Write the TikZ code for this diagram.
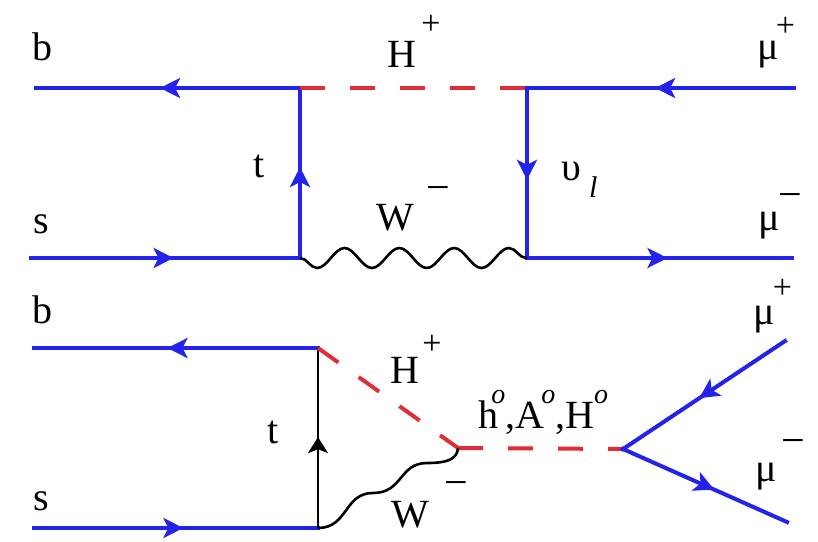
\documentclass[tikz,border=0pt]{standalone}
\usepackage{fontspec}
\setmainfont{Liberation Serif}
\usetikzlibrary{arrows.meta,decorations.markings,decorations.pathmorphing}
\definecolor{fblue}{RGB}{35,35,235}
\definecolor{sred}{RGB}{225,45,55}
\newcommand\upplus[1]{\raisebox{#1}{\fontsize{17}{17}\selectfont +}}
\newcommand\upminus[1]{\raisebox{#1}{\fontsize{21}{21}\selectfont −}}
\newcommand\upo{\raisebox{12.5pt}{\fontsize{14}{14}\selectfont\itshape o}}
\begin{document}
\begin{tikzpicture}[x=0.5pt,y=-0.5pt,
  fermion/.style={draw=fblue, line width=2pt, line cap=rect, postaction={decorate},
    decoration={markings, mark=at position #1 with {\arrow{Stealth[length=10pt,width=10pt,inset=2.5pt]}}}},
  tline/.style={draw=black, line width=1.3pt, postaction={decorate},
    decoration={markings, mark=at position #1 with {\arrow{Stealth[length=8pt,width=10pt,inset=2pt]}}}},
  scalar/.style={draw=sred, line width=2pt, dash pattern=on 12.5pt off 12.5pt},
  boson/.style={draw=black, line width=1.3pt, decorate,
    decoration={snake, amplitude=5pt, segment length=27.4pt, mirror}},
  wiggle/.style={draw=black, line width=1.3pt},
  lab/.style={anchor=base west, inner sep=0pt, font=\fontsize{20}{24}\selectfont}
]
\useasboundingbox (0,0) rectangle (818,541);
% ---------- top diagram ----------
\coordinate (bL) at (36,88);
\coordinate (vA) at (300,88);
\coordinate (vB) at (527,88);
\coordinate (muPR) at (794,88);
\coordinate (sL) at (31,258);
\coordinate (vC) at (300,258);
\coordinate (vD) at (527,258);
\coordinate (muMR) at (792,258);

\draw[fermion=0.53] (vA) -- (bL);
\draw[fermion=0.53] (sL) -- (vC);
\draw[fermion=0.535] (vC) -- (vA);
\draw[fermion=0.54] (vB) -- (vD);
\draw[fermion=0.52] (muPR) -- (vB);
\draw[fermion=0.53] (vD) -- (muMR);
\draw[scalar] (vA) -- (vB);
\draw[boson] (vC) -- (vD);

\node[lab] (tb) at (32,60) {b};
\node[lab] (ts) at (33,233) {s};
\node[lab] (tt) at (253,177) {t};
\node[lab] (tH) at (387,67) {H\kern2.5pt\upplus{16.5pt}};
\node[lab] (tW) at (376,230) {W\kern6pt\upminus{14.5pt}};
\node[lab] (tnu) at (561,180) {υ\kern4pt\raisebox{-8.5pt}{\fontsize{15}{15}\selectfont\itshape l}};
\node[lab] (tmup) at (757,59) {μ\kern-1.5pt\upplus{11.5pt}};
\node[lab] (tmum) at (758,230) {μ\kern-0.5pt\upminus{11pt}};

% ---------- bottom diagram ----------
\coordinate (bL2) at (34,348);
\coordinate (vE) at (318,348);
\coordinate (sL2) at (34,528);
\coordinate (vF) at (318,528);
\coordinate (vG) at (458,448);
\coordinate (vH) at (623,449);
\coordinate (muP2) at (785,341);
\coordinate (muM2) at (787,522);

\draw[fermion=0.53] (vE) -- (bL2);
\draw[fermion=0.526] (sL2) -- (vF);
\draw[tline=0.505] (vF) -- (vE);
\draw[scalar] (vE) -- (vG);
\draw[scalar] (vG) -- (vH);
\draw[fermion=0.53] (muP2) -- (vH);
\draw[fermion=0.556] (vH) -- (muM2);
\draw[wiggle] (vF) .. controls (348,528) and (344,493) .. (373,493)
  .. controls (403,493) and (399,463) .. (427,463)
  .. controls (450,463) and (457,458) .. (vG);

\node[lab] (bb) at (32,323) {b};
\node[lab] (bs) at (33,510) {s};
\node[lab] (bt) at (267,443) {t};
\node[lab] (bH) at (390,383) {H\kern1.5pt\upplus{14.5pt}};
\node[lab] (bW) at (391,527) {W\kern7.5pt\upminus{15.5pt}};
\node[lab] (bh) at (478,428) {h\kern-3.5pt\upo,A\kern-1.5pt\upo,H\upo};
\node[lab] (bmup) at (753,324) {μ\kern-1pt\upplus{13pt}};
\node[lab] (bmum) at (755,481) {μ\kern2.5pt\upminus{13.5pt}};
\end{tikzpicture}
\end{document}
